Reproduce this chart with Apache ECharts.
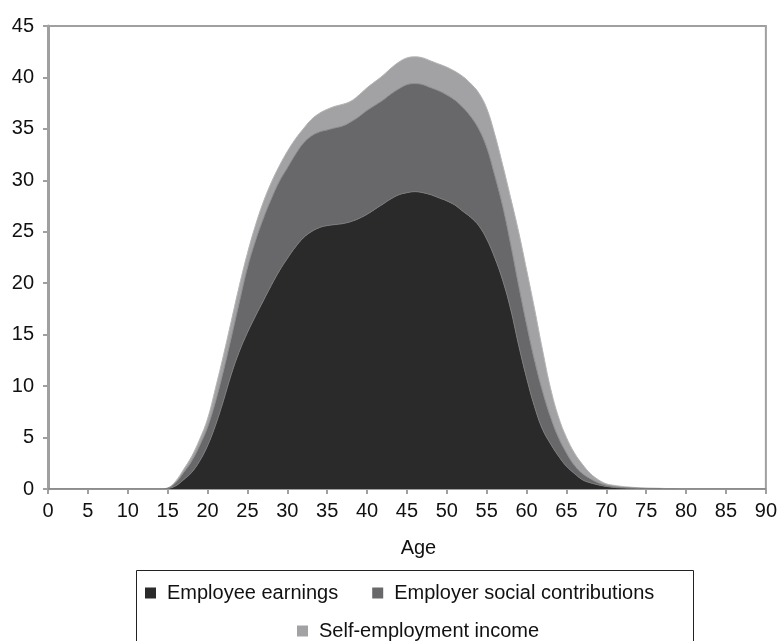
<!DOCTYPE html>
<html>
<head>
<meta charset="utf-8">
<script src="https://cdn.jsdelivr.net/npm/echarts@6/dist/echarts.min.js"></script>
<style>html,body{margin:0;padding:0;background:#fff;}#c{width:780px;height:641px;}</style>
</head>
<body>
<div id="c"></div>
<script>
// Ages 0..90 (category axis, labels every 5 years)
const ages = [];
for (let a = 0; a <= 90; a++) ages.push(String(a));

const seriesNames = ['Employee earnings', 'Employer social contributions', 'Self-employment income'];

// Employee earnings (bottom layer), ages 0..90
const employeeEarnings = [
  0,0,0,0,0,0,0,0,0,0,            // 0-9
  0,0,0,0,0,0.05,0.3,0.9,1.6,2.7, // 10-19
  4.2,6.2,8.6,11.2,13.4,15.2,16.8,18.3,19.8,21.2, // 20-29
  22.4,23.5,24.4,25.0,25.4,25.6,25.7,25.8,26.0,26.3, // 30-39
  26.7,27.2,27.7,28.2,28.6,28.8,28.9,28.8,28.6,28.3, // 40-49
  28.0,27.6,27.0,26.4,25.6,24.3,22.5,20.3,17.5,14.0, // 50-59
  10.8,8.0,5.8,4.4,3.2,2.2,1.5,0.9,0.6,0.4,          // 60-69
  0.25,0.15,0.1,0.07,0.05,0.03,0.02,0.01,0,0,        // 70-79
  0,0,0,0,0,0,0,0,0,0,0                              // 80-90
];

// Employer social contributions (middle layer)
const employerContributions = [
  0,0,0,0,0,0,0,0,0,0,
  0,0,0,0,0,0.03,0.3,0.7,1.1,1.5,
  1.8,2.3,2.9,3.6,4.8,6.3,7.3,8.0,8.4,8.7,
  8.8,9.0,9.2,9.3,9.3,9.3,9.4,9.5,9.7,9.9,
  10.1,10.1,10.1,10.2,10.3,10.5,10.5,10.5,10.4,10.4,
  10.3,10.2,10.1,9.8,9.4,8.9,8.0,7.2,6.3,5.8,
  5.2,4.5,3.7,2.6,1.8,1.3,0.8,0.6,0.4,0.2,
  0.1,0.07,0.05,0.03,0.02,0.02,0.02,0.02,0.02,0.01,
  0,0,0,0,0,0,0,0,0,0,0
];

// Self-employment income (top layer)
const selfEmployment = [
  0,0,0,0,0,0,0,0,0,0,
  0,0,0,0,0,0.02,0.15,0.3,0.45,0.6,
  0.8,1.3,1.5,1.6,1.6,1.4,1.5,1.6,1.6,1.5,
  1.6,1.5,1.4,1.6,1.8,2.0,2.1,2.1,2.0,2.1,
  2.2,2.3,2.4,2.5,2.6,2.6,2.6,2.6,2.6,2.6,
  2.7,2.8,3.0,3.2,3.5,3.8,4.0,4.0,4.5,5.2,
  5.3,5.0,4.0,2.8,2.0,1.5,1.2,0.9,0.5,0.3,
  0.15,0.13,0.1,0.08,0.06,0.05,0.04,0.03,0.02,0.02,
  0.02,0.01,0,0,0,0,0,0,0,0,0
];

const yTicks = { min: 0, max: 45, step: 5 };

const FONT = '"Liberation Sans", Arial, Helvetica, sans-serif';
const colors = ['#2a2a2a', '#68686a', '#a2a2a4'];
const edge = ['#7c7c7e', '#8c8c8e', '#b4b4b6'];

const chart = echarts.init(document.getElementById('c'), null, { renderer: 'canvas' });
chart.setOption({
  animation: false,
  backgroundColor: '#ffffff',
  grid: { left: 48, right: 13, top: 26, bottom: 152, show: true, borderColor: '#a0a0a0', borderWidth: 2, backgroundColor: 'transparent' },
  xAxis: {
    type: 'category', data: ages, boundaryGap: false,
    name: 'Age', nameLocation: 'middle', nameGap: 49,
    nameTextStyle: { fontFamily: FONT, fontSize: 20, color: '#111', padding: [0, 0, 0, 23] },
    axisLine: { show: true, lineStyle: { color: '#a0a0a0', width: 2 } },
    axisTick: { show: true, length: 5, interval: 4, lineStyle: { color: '#a0a0a0', width: 2 } },
    axisLabel: { fontFamily: FONT, fontSize: 20, color: '#111', margin: 12, interval: 4 },
    splitLine: { show: false }
  },
  yAxis: {
    type: 'value', min: yTicks.min, max: yTicks.max, interval: yTicks.step,
    axisLine: { show: true, lineStyle: { color: '#a0a0a0', width: 3 } },
    axisTick: { show: true, length: 5, lineStyle: { color: '#a0a0a0', width: 2 } },
    axisLabel: { fontFamily: FONT, fontSize: 20, color: '#111', margin: 14 },
    splitLine: { show: false }
  },
  legend: [
    {
      data: [seriesNames[0], seriesNames[1]],
      left: 140, top: 578, orient: 'horizontal',
      icon: 'rect', itemWidth: 11, itemHeight: 11, itemGap: 34,
      textStyle: { fontFamily: FONT, fontSize: 20, color: '#111', padding: [0, 0, 0, 6] }
    },
    {
      data: [seriesNames[2]],
      left: 292, top: 616, orient: 'horizontal',
      icon: 'rect', itemWidth: 11, itemHeight: 11,
      textStyle: { fontFamily: FONT, fontSize: 20, color: '#111', padding: [0, 0, 0, 6] }
    }
  ],
  graphic: [
    { type: 'rect', shape: { x: 136.5, y: 570.5, width: 557, height: 72 }, style: { fill: 'none', stroke: '#222', lineWidth: 1 }, z: 100 }
  ],
  series: [employeeEarnings, employerContributions, selfEmployment].map((vals, i) => ({
    name: seriesNames[i],
    type: 'line',
    stack: 'total',
    smooth: 0.4,
    showSymbol: false,
    symbol: 'none',
    data: vals,
    itemStyle: { color: colors[i] },
    lineStyle: { color: edge[i], width: 1 },
    areaStyle: { color: colors[i], opacity: 1 },
    z: 3 - i
  }))
});
</script>
</body>
</html>
